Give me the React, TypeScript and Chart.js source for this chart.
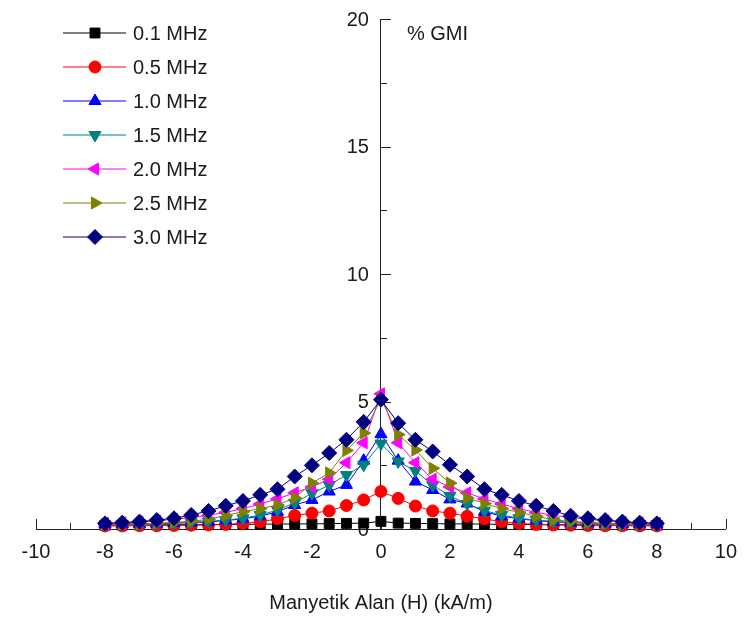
import React, { useEffect, useRef } from 'react';
import { Chart, registerables } from 'chart.js';
import { drawPoint } from 'chart.js/helpers';

Chart.register(...registerables);

// Magnetic field H (kA/m)
const fieldH = [
  -8, -7.5, -7, -6.5, -6, -5.5, -5, -4.5, -4, -3.5, -3, -2.5, -2, -1.5, -1, -0.5,
  0, 0.5, 1, 1.5, 2, 2.5, 3, 3.5, 4, 4.5, 5, 5.5, 6, 6.5, 7, 7.5, 8,
];

// % GMI for each frequency
const gmi01 = [
  0.15, 0.15, 0.16, 0.16, 0.17, 0.17, 0.17, 0.18, 0.18, 0.19, 0.19, 0.2, 0.2, 0.21, 0.22, 0.23,
  0.3, 0.23, 0.22, 0.21, 0.2, 0.2, 0.19, 0.18, 0.18, 0.17, 0.17, 0.17, 0.16, 0.16, 0.15, 0.15, 0.15,
];
const gmi05 = [
  0.12, 0.12, 0.13, 0.13, 0.14, 0.15, 0.16, 0.18, 0.22, 0.28, 0.4, 0.53, 0.62, 0.71, 0.92, 1.14,
  1.47, 1.2, 0.9, 0.71, 0.62, 0.5, 0.4, 0.28, 0.22, 0.18, 0.16, 0.15, 0.14, 0.13, 0.13, 0.12, 0.12,
];
const gmi10 = [
  0.18, 0.19, 0.2, 0.21, 0.23, 0.25, 0.28, 0.33, 0.4, 0.5, 0.68, 0.94, 1.14, 1.47, 1.73, 2.68,
  3.72, 2.68, 1.86, 1.53, 1.16, 1.0, 0.68, 0.5, 0.4, 0.33, 0.28, 0.25, 0.23, 0.21, 0.2, 0.19, 0.18,
];
const gmi15 = [
  0.18, 0.19, 0.2, 0.21, 0.23, 0.26, 0.3, 0.35, 0.42, 0.55, 0.74, 1.03, 1.4, 1.72, 2.12, 2.52,
  3.35, 2.65, 2.28, 1.72, 1.3, 0.98, 0.72, 0.55, 0.42, 0.35, 0.3, 0.26, 0.23, 0.21, 0.2, 0.19, 0.18,
];
const gmi20 = [
  0.22, 0.24, 0.27, 0.32, 0.38, 0.45, 0.54, 0.65, 0.8, 0.98, 1.18, 1.42, 1.65, 1.95, 2.6, 3.38,
  5.3, 3.38, 2.6, 1.95, 1.65, 1.42, 1.18, 0.98, 0.8, 0.65, 0.54, 0.45, 0.38, 0.32, 0.27, 0.24, 0.22,
];
const gmi25 = [
  0.17, 0.18, 0.2, 0.22, 0.26, 0.3, 0.38, 0.53, 0.68, 0.8, 0.94, 1.22, 1.8, 2.2, 3.08, 3.76,
  5.1, 3.7, 3.1, 2.38, 1.8, 1.22, 1.0, 0.8, 0.66, 0.5, 0.36, 0.3, 0.26, 0.22, 0.2, 0.18, 0.17,
];
const gmi30 = [
  0.22, 0.25, 0.29, 0.35, 0.42, 0.55, 0.71, 0.91, 1.1, 1.34, 1.56, 2.06, 2.5, 2.98, 3.5, 4.2,
  5.07, 4.15, 3.5, 3.04, 2.52, 2.06, 1.56, 1.34, 1.1, 0.91, 0.71, 0.52, 0.42, 0.35, 0.29, 0.25, 0.22,
];

const seriesValues = [gmi01, gmi05, gmi10, gmi15, gmi20, gmi25, gmi30];
const seriesLabels = ['0.1 MHz', '0.5 MHz', '1.0 MHz', '1.5 MHz', '2.0 MHz', '2.5 MHz', '3.0 MHz'];
const seriesColors = ['#000000', '#ff0000', '#0000ff', '#008080', '#ff00ff', '#808000', '#000080'];
const seriesStyles = ['rect', 'circle', 'triangle', 'triangle', 'triangle', 'triangle', 'rectRot'];
const seriesRotations = [0, 0, 0, 180, 270, 90, 0];
const seriesRadii = [7, 6, 7, 7, 7, 7, 7.5];

const xMajorTicks = [-10, -8, -6, -4, -2, 0, 2, 4, 6, 8, 10];
const xMinorTicks = [-9, -7, -5, -3, -1, 1, 3, 5, 7, 9];
const yLabelTicks = [0, 5, 10, 15, 20];
const yMajorTicks = [5, 10, 15, 20];
const yMinorTicks = [2.5, 7.5, 12.5, 17.5];

const xTitle = 'Manyetik Alan (H) (kA/m)';
const yLabel = '% GMI';

const FONT = "'Liberation Sans', Arial, sans-serif";
const TEXT = '#1a1a1a';
const AXIS = '#222222';

const axisTicksPlugin = {
  id: 'axisTicks',
  beforeDatasetsDraw(chart: any) {
    const ctx = chart.ctx;
    const xs = chart.scales.x;
    const ys = chart.scales.y;
    const y0 = ys.getPixelForValue(0);
    const x0 = xs.getPixelForValue(0);
    ctx.save();
    ctx.strokeStyle = AXIS;
    ctx.lineWidth = 1;
    ctx.beginPath();
    const xt = (v: number, len: number) => {
      const px = Math.round(xs.getPixelForValue(v)) + 0.5;
      ctx.moveTo(px, y0);
      ctx.lineTo(px, y0 - len);
    };
    const yt = (v: number, len: number) => {
      const py = Math.round(ys.getPixelForValue(v)) + 0.5;
      ctx.moveTo(x0, py);
      ctx.lineTo(x0 + len, py);
    };
    xMajorTicks.forEach((v) => xt(v, 10));
    xMinorTicks.forEach((v) => xt(v, 6));
    yMajorTicks.forEach((v) => yt(v, 10));
    yMinorTicks.forEach((v) => yt(v, 6));
    ctx.stroke();

    // y tick labels, left of the centred axis
    ctx.font = `20px ${FONT}`;
    ctx.fillStyle = TEXT;
    ctx.textAlign = 'right';
    ctx.textBaseline = 'middle';
    yLabelTicks.forEach((v) => {
      ctx.fillText(String(v), x0 - 12, ys.getPixelForValue(v) + 1);
    });
    ctx.restore();
  },
  afterDraw(chart: any) {
    const ctx = chart.ctx;
    const xs = chart.scales.x;
    const ys = chart.scales.y;
    const area = chart.chartArea;
    ctx.save();
    ctx.font = `20px ${FONT}`;
    ctx.fillStyle = TEXT;
    ctx.textBaseline = 'middle';
    ctx.textAlign = 'left';
    ctx.fillText(yLabel, xs.getPixelForValue(0) + 26, ys.getPixelForValue(20) + 15);

    // legend
    const lx = area.left + 27;
    for (let i = 0; i < seriesLabels.length; i++) {
      const cy = area.top + 14 + 34 * i;
      ctx.strokeStyle = seriesColors[i];
      ctx.lineWidth = 1;
      ctx.beginPath();
      ctx.moveTo(lx, cy);
      ctx.lineTo(lx + 63, cy);
      ctx.stroke();
      ctx.fillStyle = seriesColors[i];
      ctx.strokeStyle = seriesColors[i];
      drawPoint(ctx, {
        pointStyle: seriesStyles[i],
        rotation: seriesRotations[i],
        radius: seriesRadii[i],
        borderWidth: 1,
      } as any, lx + 32, cy);
      ctx.fillStyle = TEXT;
      ctx.fillText(seriesLabels[i], lx + 70, cy + 1);
    }
    ctx.restore();
  },
};

export default function App() {
  const canvasRef = useRef<HTMLCanvasElement | null>(null);

  useEffect(() => {
    document.body.style.margin = '0';
    const canvas = canvasRef.current;
    if (!canvas) return;
    const datasets = seriesValues.map((vals, i) => ({
      label: seriesLabels[i],
      data: fieldH.map((h, j) => ({ x: h, y: vals[j] })),
      borderColor: seriesColors[i],
      backgroundColor: seriesColors[i],
      borderWidth: 1,
      pointStyle: seriesStyles[i] as any,
      rotation: seriesRotations[i],
      pointRadius: seriesRadii[i],
      pointBorderWidth: 1,
      pointBorderColor: seriesColors[i],
      pointBackgroundColor: seriesColors[i],
      tension: 0,
      order: seriesLabels.length - i,
      clip: false as any,
    }));
    const chart = new Chart(canvas, {
      type: 'line',
      data: { datasets },
      options: {
        animation: false,
        responsive: false,
        maintainAspectRatio: false,
        layout: { padding: { left: 36, right: 21, top: 19, bottom: 0 } },
        plugins: { legend: { display: false }, tooltip: { enabled: false } },
        scales: {
          x: {
            type: 'linear',
            min: -10,
            max: 10,
            ticks: {
              stepSize: 2,
              color: TEXT,
              font: { family: FONT, size: 20 },
              padding: 11,
            },
            grid: { display: false, drawTicks: false },
            border: { display: true, color: AXIS, width: 1 },
            title: {
              display: true,
              text: xTitle,
              color: TEXT,
              font: { family: FONT, size: 20 },
              padding: { top: 4, bottom: 4 },
            },
            afterFit: (s: any) => {
              s.height = 90;
            },
          },
          y: {
            type: 'linear',
            position: { x: 0 } as any,
            min: 0,
            max: 20,
            ticks: { display: false, stepSize: 5 },
            grid: { display: false, drawTicks: false },
            border: { display: true, color: AXIS, width: 1 },
          },
        },
      },
      plugins: [axisTicksPlugin],
    });
    return () => chart.destroy();
  }, []);

  return (
    <div style={{ position: 'absolute', left: 0, top: 0, width: 748, height: 619, background: '#fff' }}>
      <canvas ref={canvasRef} width={748} height={619} style={{ width: 748, height: 619 }} />
    </div>
  );
}
